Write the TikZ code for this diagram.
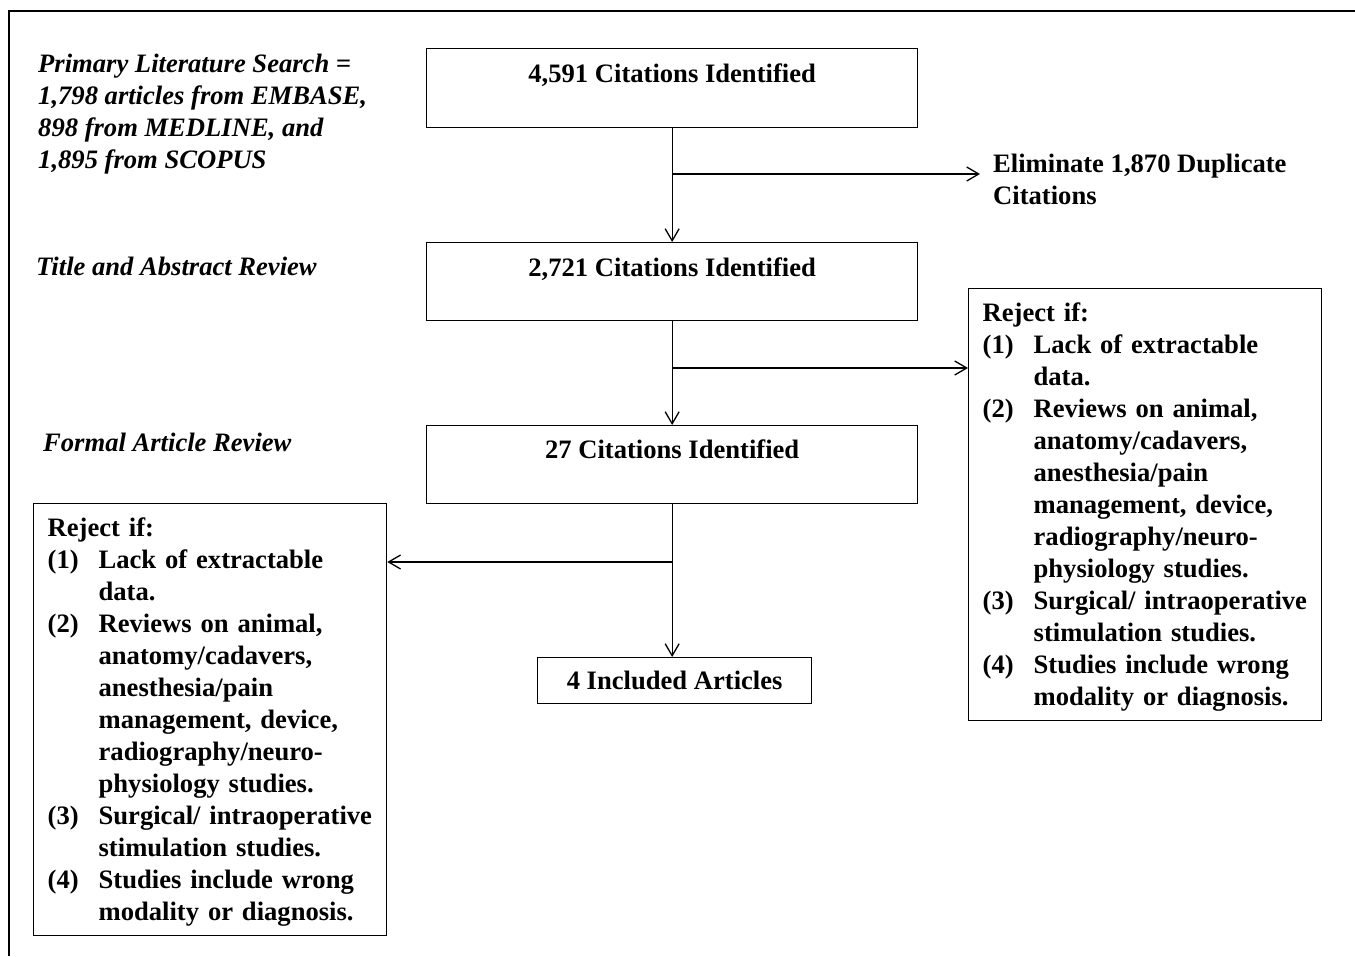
\documentclass[tikz,border=0pt]{standalone}
\usepackage{fontspec}
\setmainfont{Liberation Serif}
\usetikzlibrary{arrows.meta}
\tikzset{
  every node/.style={font=\fontsize{26.6}{32}\selectfont\bfseries},
  citebox/.style={draw, line width=1.3pt, inner sep=0pt, minimum width=491pt, anchor=north west},
  rejbox/.style={draw, line width=1.3pt, inner xsep=14pt, inner ysep=8pt, text width=325pt, align=left, anchor=north west},
  stage/.style={anchor=north west, inner sep=0pt, align=left, font=\fontsize{26.6}{32}\selectfont\bfseries\itshape},
  flow/.style={line width=1.3pt, -{Straight Barb[length=12pt,width=14pt,line width=1.3pt]}}
}
\newcommand{\rejectlist}{%
\raisebox{-2pt}[\height][\depth]{%
\begin{tabular}{@{}p{51pt}@{}l@{}}
\multicolumn{2}{@{}l@{}}{Reject if:}\\
(1) & Lack of extractable\\
    & data.\\
(2) & Reviews on animal,\\
    & anatomy/cadavers,\\
    & anesthesia/pain\\
    & management, device,\\
    & radiography/neuro-\\
    & physiology studies.\\
(3) & Surgical/ intraoperative\\
    & stimulation studies.\\
(4) & Studies include wrong\\
    & modality or diagnosis.
\end{tabular}}}
\begin{document}
\begin{tikzpicture}[x=1pt,y=1pt]
  \useasboundingbox (0,0) rectangle (1355,-956);
  \draw[line width=2pt] (9,-956) -- (9,-11) -- (1355,-11);
  % stages on the left
  \node[stage] (s1) at (38,-54) {Primary Literature Search =\\1,798 articles from EMBASE,\\898 from MEDLINE, and\\1,895 from SCOPUS};
  \node[stage] (s2) at (36,-257) {Title and Abstract Review};
  \node[stage] (s3) at (43,-433) {Formal Article Review};
  % main column
  \node[citebox, text height=34pt, text depth=45pt] (c1) at (426,-48) {4,591 Citations Identified};
  \node[citebox, text height=34pt, text depth=44pt] (c2) at (426,-242) {2,721 Citations Identified};
  \node[citebox, text height=33pt, text depth=45pt] (c3) at (426,-425) {27 Citations Identified};
  \node[citebox, minimum width=274pt, text height=32pt, text depth=14pt] (inc) at (537,-657) {4 Included Articles};
  % exclusions
  \node[anchor=north west, inner sep=0pt, align=left] (elim) at (993,-154) {Eliminate 1,870 Duplicate\\Citations};
  \node[rejbox] (rejB) at (968,-288) {\rejectlist};
  \node[rejbox] (rejA) at (33,-503) {\rejectlist};
  \coordinate (j1) at (c1.south |- 0,-174);
  \coordinate (j2) at (c2.south |- 0,-368);
  \coordinate (j3) at (c3.south |- 0,-562);
  \coordinate (e1) at (980,-174);
  \draw[flow] (c1.south) -- (c2.north);
  \draw[flow] (c2.south) -- (c3.north);
  \draw[flow] (c3.south) -- (c3.south |- inc.north);
  \draw[flow] (j1) -- (e1);
  \draw[flow] (j2) -- (rejB.west |- j2);
  \draw[flow] (j3) -- (rejA.east |- j3);
\end{tikzpicture}
\end{document}
